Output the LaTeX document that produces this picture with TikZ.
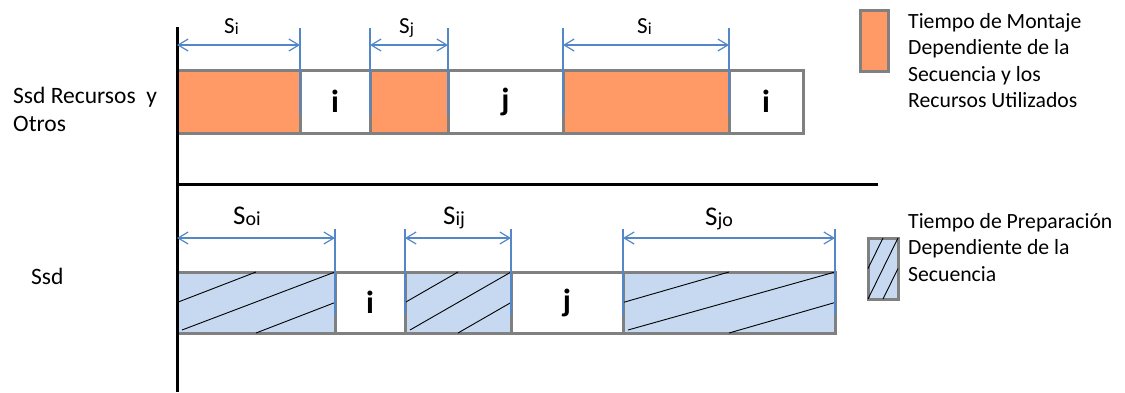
\documentclass[tikz,border=0pt]{standalone}
\usepackage{fontspec}
\setmainfont{Carlito}
\usetikzlibrary{arrows.meta}

\definecolor{setupor}{RGB}{255,153,102}
\definecolor{prepbl}{RGB}{198,217,241}
\definecolor{segedge}{RGB}{128,128,128}
\definecolor{dimblue}{RGB}{84,135,200}

% small subscript used in the dimension labels
\newcommand\dimS[3]{{\fontsize{#1}{#1}\selectfont S}{\fontsize{#2}{#2}\selectfont\raisebox{-1.5pt}{#3}}}

\tikzset{
  seg/.style={draw=segedge, line width=3pt, anchor=north west, inner sep=0pt, outer sep=0pt,
              font=\fontsize{32}{32}\selectfont\bfseries},
  setup/.style={seg, fill=setupor},
  prep/.style={seg, fill=prepbl},
  idle/.style={seg, fill=white},
  hatch/.style={black, line width=0.9pt},
  extline/.style={dimblue, line width=1.2pt},
  dimarrow/.style={dimblue, line width=1.2pt,
    {Straight Barb[length=10pt,width=12pt]}-{Straight Barb[length=10pt,width=12pt]}},
  axisline/.style={black, line width=3pt},
  rowlbl/.style={anchor=base west, inner sep=0pt, font=\fontsize{23.5}{28}\selectfont},
  legtxt/.style={anchor=base west, inner sep=0pt, align=left,
                 font=\fontsize{21.7}{26.5}\selectfont},
  dimlbl/.style={anchor=base west, inner sep=0pt},
}

\begin{document}
\begin{tikzpicture}[x=1pt, y=-1pt]
\useasboundingbox (0,0) rectangle (1125,392);

% reference heights for dimension lines
\coordinate (extA) at (0,28);
\coordinate (dimA) at (0,45);
\coordinate (extB) at (0,229);
\coordinate (dimB) at (0,238);

% ---- row 1: setup with resources ----
\node[setup, minimum width=123pt, minimum height=63pt] (r1a) at (177,70) {};
\node[idle,  minimum width=70pt,  minimum height=63pt] (r1b) at (300,70) {i};
\node[setup, minimum width=78pt,  minimum height=63pt] (r1c) at (370,70) {};
\node[idle,  minimum width=115pt, minimum height=63pt] (r1d) at (448,70) {j};
\node[setup, minimum width=166pt, minimum height=63pt] (r1e) at (563,70) {};
\node[idle,  minimum width=74pt,  minimum height=63pt] (r1f) at (729,70) {i};

% ---- row 2: sequence dependent setup ----
\node[prep, minimum width=158pt, minimum height=61pt] (r2a) at (177,272) {};
\node[idle, minimum width=70pt,  minimum height=61pt] (r2b) at (335,272) {i};
\node[prep, minimum width=106pt, minimum height=61pt] (r2c) at (405,272) {};
\node[idle, minimum width=112pt, minimum height=61pt] (r2d) at (511,272) {j};
\node[prep, minimum width=212pt, minimum height=61pt] (r2e) at (623,272) {};

% hatching of the preparation blocks
\foreach \b in {r2a,r2c,r2e}{
  \draw[hatch] (\b.west) -- (\b.north);
  \draw[hatch] ([xshift=5pt,yshift=3pt]\b.south west) -- (\b.north east);
  \draw[hatch] (\b.south) -- (\b.east);
}

% ---- axes ----
\draw[axisline] (177,27) -- (177,392);
\draw[axisline] (177,184) -- (878,184);

% ---- dimension lines, row 1 ----
\foreach \b in {r1a,r1c,r1e}{
  \draw[extline] (\b.north east |- extA) -- ++(0,87);
}
\foreach \b in {r1c,r1e}{
  \draw[extline] (\b.north west |- extA) -- ++(0,87);
}
\draw[dimarrow] (r1a.west |- dimA) -- (r1a.east |- dimA);
\draw[dimarrow] (r1c.west |- dimA) -- (r1c.east |- dimA);
\draw[dimarrow] (r1e.west |- dimA) -- (r1e.east |- dimA);

\node[dimlbl] (s1) at (224,33) {\dimS{23}{17}{i}};
\node[dimlbl] (s2) at (399,33) {\dimS{23}{17}{j}};
\node[dimlbl] (s3) at (637,33) {\dimS{23}{17}{i}};

% ---- dimension lines, row 2 ----
\foreach \b in {r2a,r2c,r2e}{
  \draw[extline] (\b.north east |- extB) -- ++(0,86);
}
\foreach \b in {r2c,r2e}{
  \draw[extline] (\b.north west |- extB) -- ++(0,86);
}
\draw[dimarrow] (r2a.west |- dimB) -- (r2a.east |- dimB);
\draw[dimarrow] (r2c.west |- dimB) -- (r2c.east |- dimB);
\draw[dimarrow] (r2e.west |- dimB) -- (r2e.east |- dimB);

\node[dimlbl] (s4) at (233,224) {\dimS{27}{20}{oi}};
\node[dimlbl] (s5) at (443,224) {\dimS{27}{20}{ij}};
\node[dimlbl] (s6) at (705,225) {\dimS{27}{20}{jo}};

% ---- row labels ----
\node[rowlbl] (lab1) at (13,103) {Ssd Recursos\ \ y};
\node[rowlbl] (lab2) at (13,131) {Otros};
\node[rowlbl] (lab3) at (31,284) {Ssd};

% ---- legend (anchored at the baseline of the last line) ----
\node[setup, minimum width=28pt, minimum height=61pt] (leg1) at (860,10) {};
\node[legtxt] (legt1) at (908,107.5) {Tiempo de Montaje\\Dependiente de la\\Secuencia y los\\Recursos Utilizados};

\node[prep, minimum width=30pt, minimum height=61pt] (leg2) at (868,238) {};
\draw[hatch] (leg2.west) -- (leg2.north);
\draw[hatch] (leg2.south west) -- (leg2.north east);
\draw[hatch] (leg2.south) -- (leg2.east);
\node[legtxt] (legt2) at (908,281) {Tiempo de Preparación\\Dependiente de la\\Secuencia};
\end{tikzpicture}
\end{document}
